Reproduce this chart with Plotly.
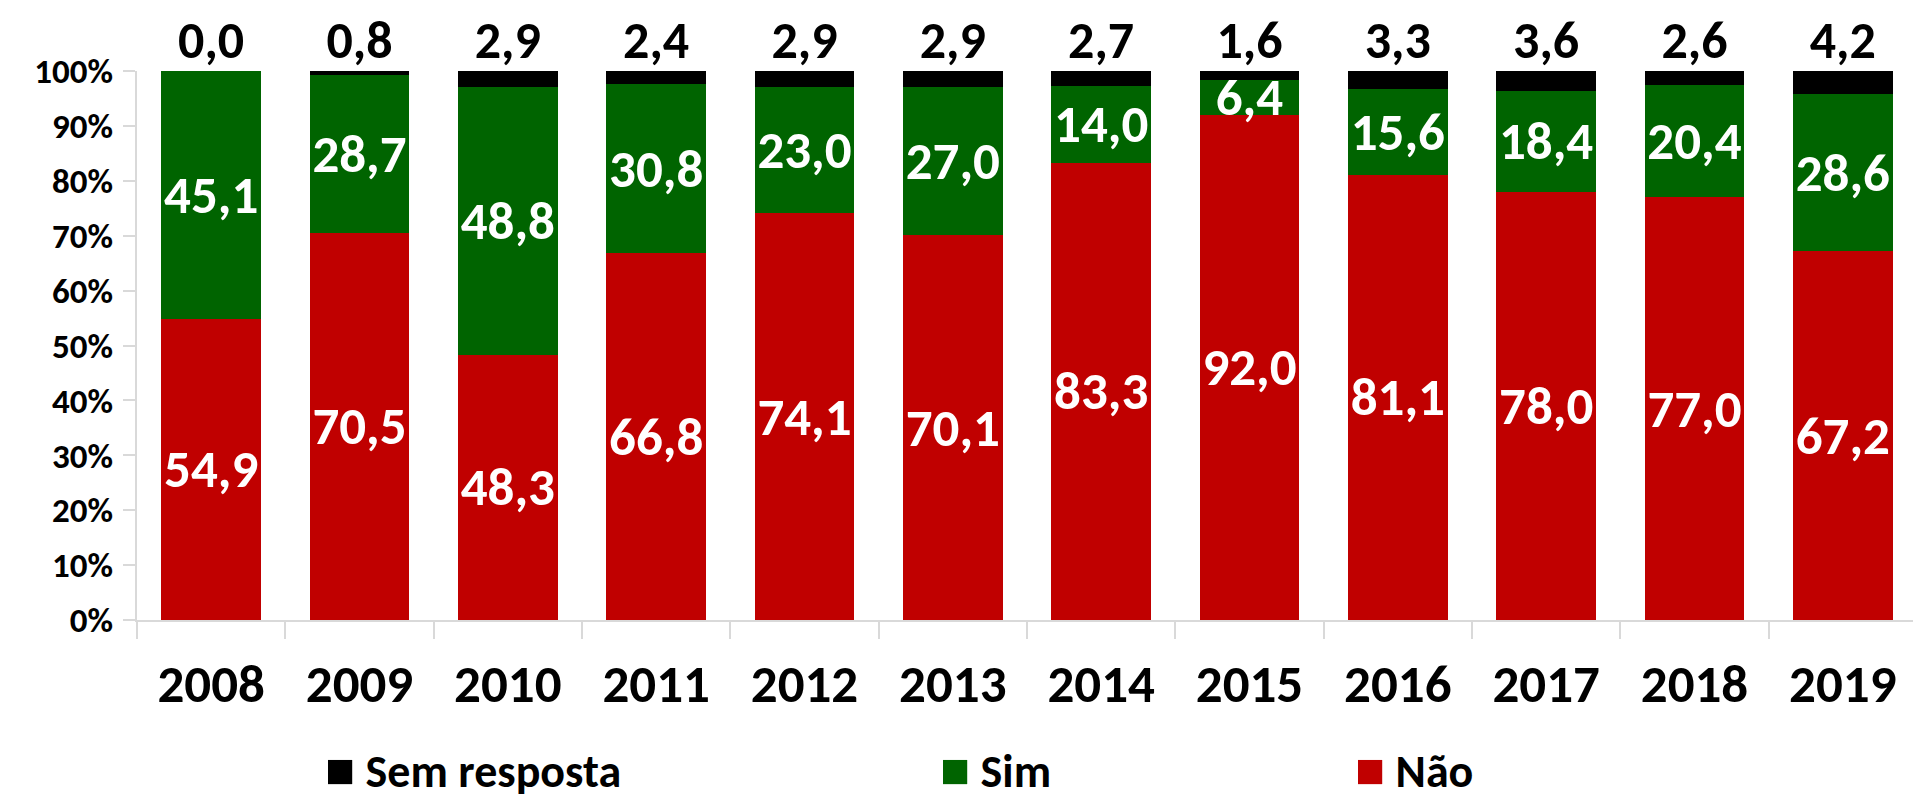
import plotly.graph_objects as go

years = ["2008", "2009", "2010", "2011", "2012", "2013", "2014", "2015", "2016", "2017", "2018", "2019"]
nao = [54.9, 70.5, 48.3, 66.8, 74.1, 70.1, 83.3, 92.0, 81.1, 78.0, 77.0, 67.2]
sim = [45.1, 28.7, 48.8, 30.8, 23.0, 27.0, 14.0, 6.4, 15.6, 18.4, 20.4, 28.6]
sem_resposta = [0.0, 0.8, 2.9, 2.4, 2.9, 2.9, 2.7, 1.6, 3.3, 3.6, 2.6, 4.2]
y_ticks = [0, 10, 20, 30, 40, 50, 60, 70, 80, 90, 100]

FONT = "Carlito, Calibri, Lato, sans-serif"
RED = "#C00000"
GREEN = "#006400"
BLACK = "#000000"


def fmt(v):
    return f"{v:.1f}".replace(".", ",")


fig = go.Figure()
fig.add_trace(go.Bar(
    x=years, y=nao, name="Não", marker=dict(color=RED, line=dict(width=0)),
    text=[fmt(v) for v in nao], textposition="inside", insidetextanchor="middle",
    textangle=0, textfont=dict(family=FONT, size=53, color="white", weight="bold"),
))
fig.add_trace(go.Bar(
    x=years, y=sim, name="Sim", marker=dict(color=GREEN, line=dict(width=0)),
    text=[fmt(v) for v in sim], textposition="inside", insidetextanchor="middle",
    textangle=0, textfont=dict(family=FONT, size=53, color="white", weight="bold"),
))
fig.add_trace(go.Bar(
    x=years, y=sem_resposta, name="Sem resposta", marker=dict(color=BLACK, line=dict(width=0)),
    textposition="none",
))
# labels above the bars for "Sem resposta"
fig.add_trace(go.Scatter(
    x=years, y=[round(n + s + r, 1) for n, s, r in zip(nao, sim, sem_resposta)],
    mode="text", text=[fmt(v) for v in sem_resposta], textposition="top center",
    textfont=dict(family=FONT, size=52, color="black", weight="bold"),
    cliponaxis=False, showlegend=False, hoverinfo="skip",
))

fig.update_layout(
    barmode="stack",
    bargap=0.33,
    width=1913, height=792,
    margin=dict(l=129, r=4, t=63, b=180),
    plot_bgcolor="white", paper_bgcolor="white",
    showlegend=False,
    uniformtext=dict(mode="show", minsize=53),
    font=dict(family=FONT, color="black"),
)
fig.update_xaxes(
    type="category", automargin=False, range=[-0.5, len(years) - 0.5],
    showline=True, linecolor="#d9d9d9", linewidth=2,
    ticks="outside", tickson="boundaries", ticklen=17, tickcolor="#d9d9d9", tickwidth=2,
    tickfont=dict(family=FONT, size=53, color="black", weight="bold"),
    ticklabelstandoff=16,
    showgrid=False,
)
fig.update_yaxes(
    range=[0, 100], automargin=False,
    tickvals=y_ticks, ticktext=[f"{v}%" for v in y_ticks],
    showline=True, linecolor="#d9d9d9", linewidth=2,
    ticks="outside", ticklen=12, tickcolor="#d9d9d9", tickwidth=2,
    tickfont=dict(family=FONT, size=35, color="black", weight="bold"),
    ticklabelstandoff=3,
    showgrid=False, zeroline=False,
)

# legend (built as text entries with coloured square glyphs)
legend_items = [("Sem resposta", BLACK, 0.1045), ("Sim", GREEN, 0.450), ("Não", RED, 0.683)]
for label, color, xpos in legend_items:
    fig.add_annotation(
        xref="paper", yref="paper", x=xpos, y=-0.273, xanchor="left", yanchor="middle",
        text=f"<span style='color:{color};font-size:50px'>■</span> {label}",
        showarrow=False, font=dict(family=FONT, size=46, color="black", weight="bold"),
    )

fig.write_html("out.html")
